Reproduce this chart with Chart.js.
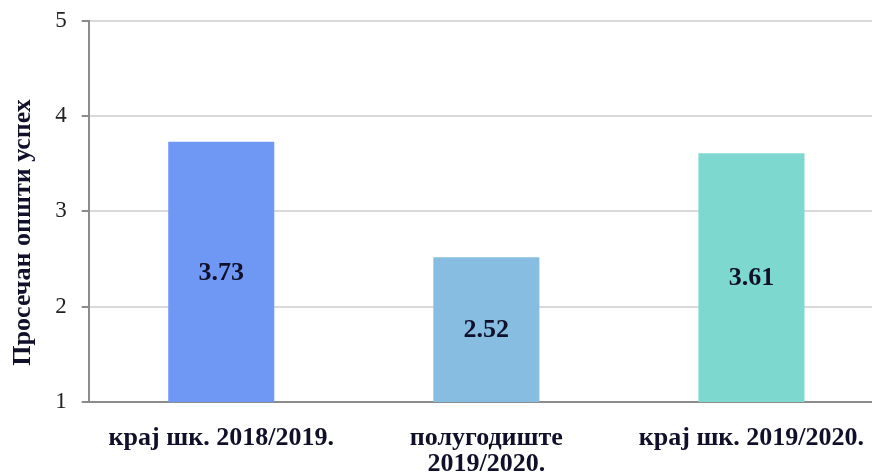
<!DOCTYPE html>
<html><head><meta charset="utf-8">
<script src="https://cdn.jsdelivr.net/npm/chart.js@4"></script>
<style>html,body{margin:0;padding:0;overflow:hidden;background:#fff;}#wrap{width:884px;height:473px;position:relative;}</style>
</head><body><div id="wrap"><canvas id="c"></canvas></div>
<script>
const categories = [["крај шк. 2018/2019."], ["полугодиште", "2019/2020."], ["крај шк. 2019/2020."]];
const values = [3.73, 2.52, 3.61];
const barColors = ["#6f98f5", "#86bde0", "#7dd8d0"];
const yTicks = [1, 2, 3, 4, 5];
const yTitle = "Просечан општи успех";

const labelPlugin = {
  id: 'labels',
  afterDatasetsDraw(chart) {
    const ctx = chart.ctx;
    const meta = chart.getDatasetMeta(0);
    const ys = chart.scales.y;
    const base = ys.getPixelForValue(yTicks[0]);
    ctx.save();
    ctx.font = "bold 26px 'Liberation Serif'";
    ctx.fillStyle = "#10102a";
    ctx.textAlign = "center";
    ctx.textBaseline = "middle";
    meta.data.forEach((bar, i) => {
      const y = (bar.y + base) / 2;
      ctx.fillText(values[i].toFixed(2), bar.x, y + 1);
    });
    // axis title, shifted slightly below the axis centre as in the reference
    ctx.translate(ys.left + 20, (ys.top + ys.bottom) / 2 + 21);
    ctx.rotate(-Math.PI / 2);
    ctx.fillText(yTitle, 0, 0);
    ctx.restore();
  }
};

new Chart(document.getElementById('c'), {
  type: 'bar',
  data: { labels: categories, datasets: [{ data: values, backgroundColor: barColors, barPercentage: 0.4, categoryPercentage: 1 }] },
  options: {
    responsive: true, maintainAspectRatio: false, animation: false,
    layout: { padding: { top: 15, left: 3, right: 0, bottom: -19 } },
    plugins: { legend: { display: false }, tooltip: { enabled: false } },
    scales: {
      x: {
        grid: { display: false },
        border: { color: '#8c8c8c', width: 2 },
        ticks: { color: '#10102a', font: { family: 'Liberation Serif', size: 26, weight: 'bold', lineHeight: 1.0 }, padding: 15, maxRotation: 0, autoSkip: false }
      },
      y: {
        min: 1, max: 5,
        afterBuildTicks: (ax) => { ax.ticks = yTicks.map(v => ({ value: v })); },
        grid: { color: '#d9d9d9', lineWidth: 2, tickLength: 7, tickColor: '#8c8c8c', drawTicks: true },
        border: { color: '#8c8c8c', width: 2 },
        ticks: { color: '#222', font: { family: 'Liberation Serif', size: 23, lineHeight: 0.5 }, padding: 15 },
        title: { display: true, text: yTitle, color: 'rgba(0,0,0,0)', font: { family: 'Liberation Serif', size: 26, weight: 'bold' }, padding: { top: 0, bottom: 6 } }
      }
    }
  },
  plugins: [labelPlugin]
});
</script></body></html>
